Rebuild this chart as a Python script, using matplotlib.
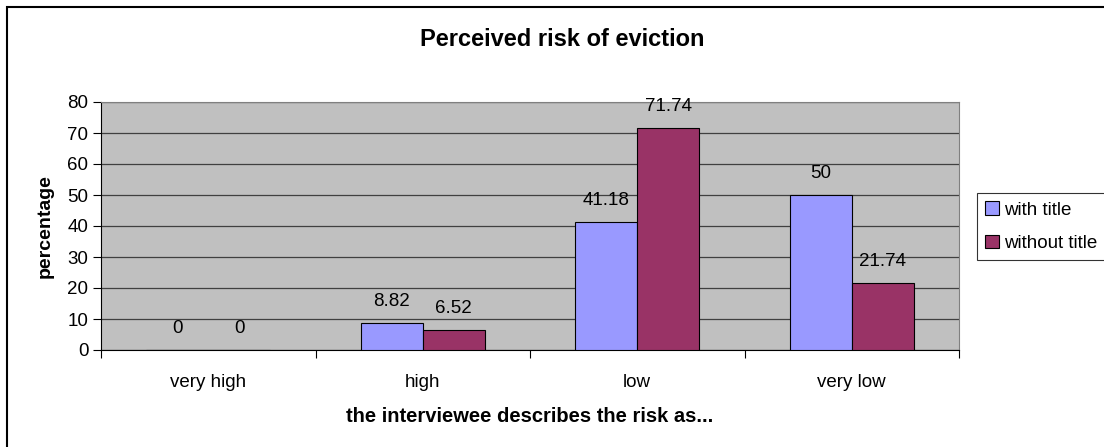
import matplotlib
matplotlib.use("Agg")
import matplotlib.pyplot as plt
import numpy as np
from matplotlib.patches import Rectangle

plt.rcParams['font.family'] = ['Liberation Sans', 'DejaVu Sans']

categories = ["very high", "high", "low", "very low"]
with_title = [0, 8.82, 41.18, 50]
without_title = [0, 6.52, 71.74, 21.74]
series_names = ["with title", "without title"]
colors = ["#9999FF", "#993366"]

#----------------------------------------------------------------#
fig = plt.figure(figsize=(11.04, 4.47), dpi=100)
# outer chart border (right and bottom run off the picture)
fig.patches.append(Rectangle((7/1104, -0.05), 1.1, 1 - 7/447 + 0.05, transform=fig.transFigure,
                             fill=False, edgecolor="black", linewidth=1.5))

ax = fig.add_axes([101/1104, 1 - 350/447, 858/1104, 248/447])
ax.set_facecolor("#C0C0C0")

fs = 13.5
x = np.arange(len(categories))
w = 0.288
for i, (vals, name) in enumerate(zip([with_title, without_title], series_names)):
    pos = x + (i - 0.5) * w
    ax.bar(pos, vals, width=w, color=colors[i], edgecolor="black", linewidth=0.8,
           label=name, zorder=3)
    for p, v in zip(pos, vals):
        ax.text(p, v + 4.2, f"{v:g}", ha="center", va="bottom", fontsize=fs, zorder=4)

ax.set_xlim(-0.5, len(categories) - 0.5)
ax.set_ylim(0, 80)
ax.set_yticks(range(0, 81, 10))
ax.yaxis.grid(True, color="#404040", linewidth=0.9, zorder=1)
ax.set_axisbelow(True)

ax.set_xticks(x)
ax.set_xticklabels(categories, fontsize=fs)
ax.set_xticks(np.arange(-0.5, len(categories)), minor=True)
ax.tick_params(axis="x", which="major", length=0, pad=17)
ax.tick_params(axis="x", which="minor", length=6, width=0.8, direction="out")
ax.tick_params(axis="y", length=6, width=0.8, direction="out", labelsize=fs, pad=3)

for side in ["top", "right"]:
    ax.spines[side].set_color("#808080")
for side in ["left", "bottom"]:
    ax.spines[side].set_color("black")

ax.set_ylabel("percentage", fontsize=14, fontweight="bold", labelpad=10)
ax.set_xlabel("the interviewee describes the risk as...", fontsize=14.5, fontweight="bold", labelpad=12)
fig.text(562/1104, 1 - 40/447, "Perceived risk of eviction", ha="center", va="center",
         fontsize=17, fontweight="bold")

leg = fig.legend(loc="upper left", bbox_to_anchor=(977/1104, 1 - 193/447), fontsize=fs,
                 frameon=True, fancybox=False, edgecolor="black", handlelength=0.7,
                 handleheight=0.7, handletextpad=0.3, borderpad=0.45, labelspacing=0.85,
                 borderaxespad=0)
leg.get_frame().set_linewidth(0.8)

fig.savefig("out.png", dpi=100)
